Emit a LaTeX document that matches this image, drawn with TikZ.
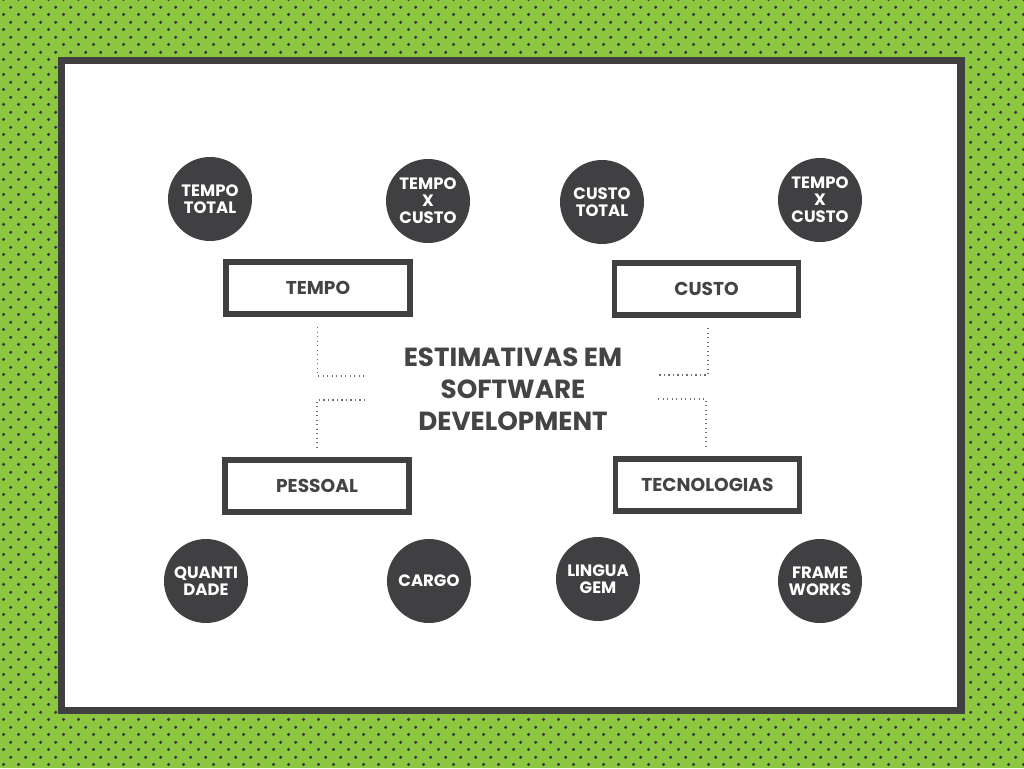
\documentclass[tikz,border=0pt]{standalone}
\usepackage{fontspec}
\setmainfont{Poppins}
\usetikzlibrary{patterns}
\definecolor{bggreen}{RGB}{141,198,63}
\definecolor{dotc}{RGB}{52,54,64}
\definecolor{darkg}{RGB}{64,64,66}
\definecolor{txtg}{RGB}{68,68,68}
\definecolor{linkg}{RGB}{110,110,110}
\pgfdeclarepatternformonly{greendots}{\pgfqpoint{0pt}{0pt}}{\pgfqpoint{14.66pt}{14.63pt}}{\pgfqpoint{14.66pt}{14.63pt}}{%
  \pgfpathcircle{\pgfqpoint{3.66pt}{3.66pt}}{1.75pt}%
  \pgfpathcircle{\pgfqpoint{10.99pt}{10.97pt}}{1.75pt}%
  \pgfusepath{fill}%
}
\tikzset{
  bubble/.style={circle, fill=darkg, minimum size=84pt, inner sep=0pt, text=white, align=center, font=\bfseries\fontsize{16.5}{17}\selectfont},
  catbox/.style={draw=darkg, line width=5.5pt, fill=white, minimum width=184pt, minimum height=52pt, inner sep=0pt, text=txtg, font=\bfseries\fontsize{18.6}{18.6}\selectfont},
  titletext/.style={text=txtg, align=center, font=\bfseries\fontsize{26.2}{32}\selectfont},
  link/.style={draw=linkg, line width=1.3pt, dash pattern=on 1.2pt off 3.3pt}
}
\begin{document}
\begin{tikzpicture}[x=1pt,y=-1pt]
\useasboundingbox (0,0) rectangle (1024,768);
\fill[bggreen] (0,0) rectangle (1024,768);
\fill[pattern=greendots, pattern color=dotc] (0,0) rectangle (1024,768);
\draw[darkg, line width=7.5pt, fill=white] (61.3,60.7) rectangle (961,710.5);

\node[titletext] (title) at (513,389) {ESTIMATIVAS EM\\SOFTWARE\\DEVELOPMENT};

\node[catbox] (tempo) at (318,288) {TEMPO};
\node[catbox] (custo) at (706.5,289) {CUSTO};
\node[catbox] (pessoal) at (317,486) {PESSOAL};
\node[catbox] (tecno) at (707.5,485) {TECNOLOGIAS};

\node[bubble] (tt) at (210,199) {TEMPO\\TOTAL};
\node[bubble] (txc1) at (428,201) {TEMPO\\X\\CUSTO};
\node[bubble] (ct) at (602,202) {CUSTO\\TOTAL};
\node[bubble] (txc2) at (820,200) {TEMPO\\X\\CUSTO};
\node[bubble] (qd) at (206,581) {QUANTI\\DADE};
\node[bubble] (cargo) at (429,581) {CARGO};
\node[bubble] (lg) at (598,579) {LINGUA\\GEM};
\node[bubble] (fw) at (820,581) {FRAME\\WORKS};

\coordinate (ul1) at (317.5,327);
\coordinate (ul2) at (365,376);
\coordinate (ll1) at (365,400);
\coordinate (ll2) at (317,447);
\coordinate (ur1) at (708,328);
\coordinate (ur2) at (658,375);
\coordinate (lr1) at (658,399);
\coordinate (lr2) at (706,449);
\draw[link] (ul1) |- (ul2);
\draw[link] (ll1) -| (ll2);
\draw[link] (ur1) |- (ur2);
\draw[link] (lr1) -| (lr2);
\end{tikzpicture}
\end{document}
